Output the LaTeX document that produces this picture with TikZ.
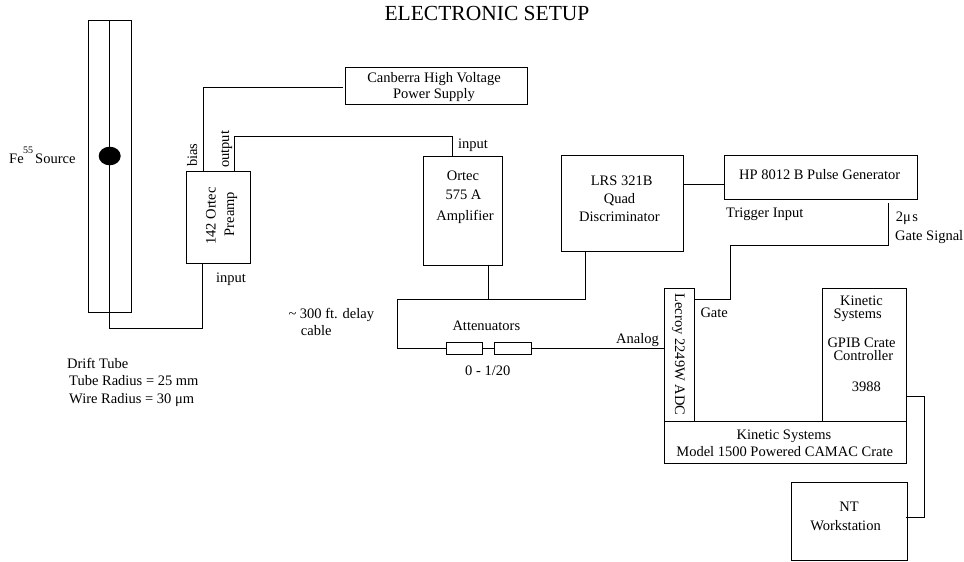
\documentclass[tikz,border=0pt]{standalone}
\usepackage{fontspec}
\setmainfont{Liberation Serif}
\tikzset{
  x=1pt,y=-1pt,
  wire/.style={draw=black,line width=0.9pt},
  lbl/.style={font=\fontsize{14.5}{14.5}\selectfont,inner sep=0pt,anchor=base west},
  ctr/.style={font=\fontsize{14.5}{14.5}\selectfont,inner sep=0pt,anchor=base},
  boxx/.style={draw=black,line width=0.9pt,inner sep=0pt,anchor=north west},
}
\begin{document}
\begin{tikzpicture}
\useasboundingbox (0,0) rectangle (964,562);
\node[boxx,minimum width=42.4pt,minimum height=291.4pt] (tube) at (88.3,20.3) {};
\fill (109.7,156) ellipse (11 and 9.3);
\node[boxx,minimum width=64pt,minimum height=92pt] (pre) at (185.7,171.3) {};
\node[boxx,minimum width=182pt,minimum height=37pt] (can) at (345,67) {};
\node[boxx,minimum width=79.4pt,minimum height=109.2pt] (ort) at (422.6,155.5) {};
\node[boxx,minimum width=121.5pt,minimum height=96pt] (lrs) at (561,155) {};
\node[boxx,minimum width=193pt,minimum height=44pt] (hp) at (724,155) {};
\node[boxx,minimum width=30.3pt,minimum height=133pt] (adc) at (664,287.7) {};
\node[boxx,minimum width=84.6pt,minimum height=133pt] (ctl) at (821.7,287.7) {};
\node[boxx,minimum width=242.3pt,minimum height=42.6pt] (crate) at (664,420.7) {};
\node[boxx,minimum width=115.5pt,minimum height=78.3pt] (nt) at (791,481.7) {};
\node[boxx,minimum width=36.6pt,minimum height=12.3pt] (a1) at (445.7,342) {};
\node[boxx,minimum width=36.7pt,minimum height=12.3pt] (a2) at (494.3,342) {};
\coordinate (wt) at (109.7,20.3);
\coordinate (gs) at (888.3,203);
\draw[wire] (wt) -- (109.7,328.7) -| (202.6,263.3);
\draw[wire] (203.3,171.3) |- (342.7,87.7);
\draw[wire] (234,171.3) |- (452.5,136) -- (452.5,155.5);
\draw[wire] (lrs.east |- 0,184) -- (hp.west |- 0,184);
\draw[wire] (488.4,264.7) -- (488.4,299.3);
\draw[wire] (a1.west) -| (397.3,299.3) -| (585.3,251);
\draw[wire] (a1.east) -- (a2.west);
\draw[wire] (a2.east) -- (adc.west |- a2.east);
\draw[wire] (gs) |- (730.7,245) |- (694.3,299.3);
\draw[wire] (906.3,396.7) -| (924.3,517.7) -- (906.3,517.7);
\node[ctr,font=\fontsize{21.5}{21.5}\selectfont] at (487,20) {ELECTRONIC SETUP};
\node[ctr] at (434,82.7) {Canberra High Voltage};
\node[ctr] at (434,98) {Power Supply};
\node[ctr] at (463,180) {Ortec};
\node[ctr] at (463.5,199) {575 A};
\node[ctr] at (465,220) {Amplifier};
\node[ctr] at (621.6,185) {LRS 321B};
\node[ctr] at (619.5,203) {Quad};
\node[ctr] at (619.5,221) {Discriminator};
\node[ctr] at (819.7,179.5) {HP 8012 B Pulse Generator};
\node[ctr,rotate=90] at (215.7,216) {142 Ortec};
\node[ctr,rotate=90] at (234,214) {Preamp};
\node[ctr,rotate=-90] at (675,354.5) {Lecroy 2249W ADC};
\node[ctr] at (784,439) {Kinetic Systems};
\node[ctr] at (784.7,456.7) {Model 1500 Powered CAMAC Crate};
\node[ctr] at (849,511.7) {NT};
\node[ctr] at (845.5,530) {Workstation};
\node[lbl] at (9,163) {Fe};
\node[lbl,font=\fontsize{10}{10}\selectfont] at (23,153) {55};
\node[lbl] at (35,163) {Source};
\node[lbl,rotate=90] at (197,167) {bias};
\node[lbl,rotate=90] at (229,168) {output};
\node[lbl] at (216,282) {input};
\node[lbl] at (67,368) {Drift Tube};
\node[lbl] at (69,385) {Tube Radius = 25 mm};
\node[lbl] at (69,403) {Wire Radius = 30 μm};
\node[lbl] at (458,148) {input};
\node[lbl] at (288.3,318.3) {\textasciitilde{} 300 ft. delay};
\node[lbl] at (300.7,335.7) {cable};
\node[lbl] at (452.3,330) {Attenuators};
\node[lbl] at (465,375) {0 - 1/20};
\node[lbl] at (616,343) {Analog};
\node[lbl] at (726,217) {Trigger Input};
\node[lbl] at (895.7,221.7) {2μ\kern1.5pt s};
\node[lbl] at (895,240) {Gate Signal};
\node[lbl] at (700.3,317.7) {Gate};
\node[lbl] at (840,305.7) {Kinetic};
\node[lbl] at (833.3,318) {Systems};
\node[lbl] at (827.3,347.7) {GPIB Crate};
\node[lbl] at (833.3,360) {Controller};
\node[lbl] at (851.7,391) {3988};
\end{tikzpicture}
\end{document}
